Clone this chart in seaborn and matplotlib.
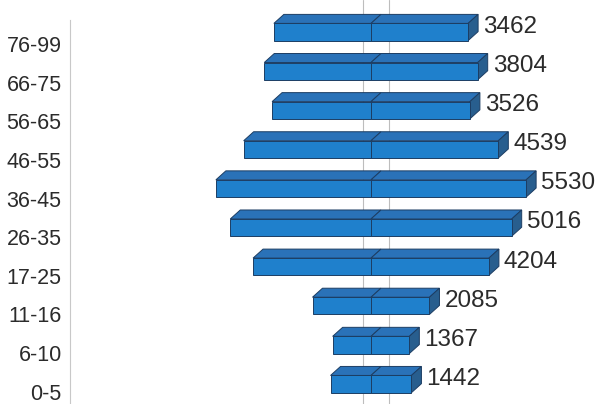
import numpy as np
import pandas as pd
import matplotlib
matplotlib.use("Agg")
import matplotlib.pyplot as plt
from matplotlib.patches import Polygon
import seaborn as sns

# age groups, top to bottom, and their counts
ages = ['76-99', '66-75', '56-65', '46-55', '36-45',
        '26-35', '17-25', '11-16', '6-10', '0-5']
counts = [3462, 3804, 3526, 4539, 5530, 5016, 4204, 2085, 1367, 1442]

sns.set_style('white')
plt.rcParams['font.family'] = ['Liberation Sans', 'DejaVu Sans']

df = pd.DataFrame({'age': ages, 'count': counts})
df['right'] = df['count'] / 2
df['left'] = -df['count'] / 2

front = '#1f80cc'
top = '#2a72b8'
side = '#285e8e'
edge = '#1c3d63'

fig = plt.figure(figsize=(6.04, 4.04), dpi=100)
ax = fig.add_axes([70 / 604, 0, 534 / 604, 1])

# centred bars: one half on each side of zero
for col in ['left', 'right']:
    sns.barplot(data=df, x=col, y='age', order=ages, orient='h', width=0.44,
                color=front, saturation=1, edgecolor=edge, linewidth=0.7,
                ax=ax, zorder=3)

# fake 3d depth built from the bar patches
dx, dy = 178, 0.23
for p in list(ax.patches):
    x0, yt = p.get_x(), p.get_y()
    x1, yb = x0 + p.get_width(), yt + p.get_height()
    xa, xb = min(x0, x1), max(x0, x1)
    ax.add_patch(Polygon([(xa, yt), (xb, yt), (xb + dx, yt - dy), (xa + dx, yt - dy)],
                         closed=True, facecolor=top, edgecolor=edge, lw=0.7,
                         zorder=2, clip_on=False))
    if xb > 0:
        ax.add_patch(Polygon([(xb, yt), (xb, yb), (xb + dx, yb - dy), (xb + dx, yt - dy)],
                             closed=True, facecolor=side, edgecolor=edge, lw=0.7,
                             zorder=2, clip_on=False))

# value labels
for i, c in enumerate(counts):
    ax.text(c / 2 + 267, i - 0.13, str(c), va='center', ha='left',
            fontsize=17.5, color='#2b2b2b')

# faint vertical rules
for gx in [-143, 321]:
    ax.axvline(gx, color='#bdbdbd', lw=0.8, zorder=0)

ax.set_xlim(-5365, 4153)
ax.set_ylim(9.51, -0.818)
ax.set_xlabel('')
ax.set_ylabel('')
ax.set_xticks([])

n = len(ages)
ax.set_yticks(np.arange(n) * 0.987 + 0.31)
ax.set_yticklabels(ages, fontsize=15.5, color='#2b2b2b')
ax.set_yticks(np.arange(n - 1) * 0.987 + 0.717, minor=True)
ax.tick_params(axis='y', which='major', length=0, pad=6)
ax.tick_params(axis='y', which='minor', length=3, direction='in',
               color='#c8c8c8', width=0.8)

for s in ['top', 'right', 'bottom']:
    ax.spines[s].set_visible(False)
ax.spines['left'].set_color('#c8c8c8')
ax.spines['left'].set_linewidth(0.8)
ax.spines['left'].set_bounds(-0.307, 9.51)

fig.savefig('out.png', dpi=100)
